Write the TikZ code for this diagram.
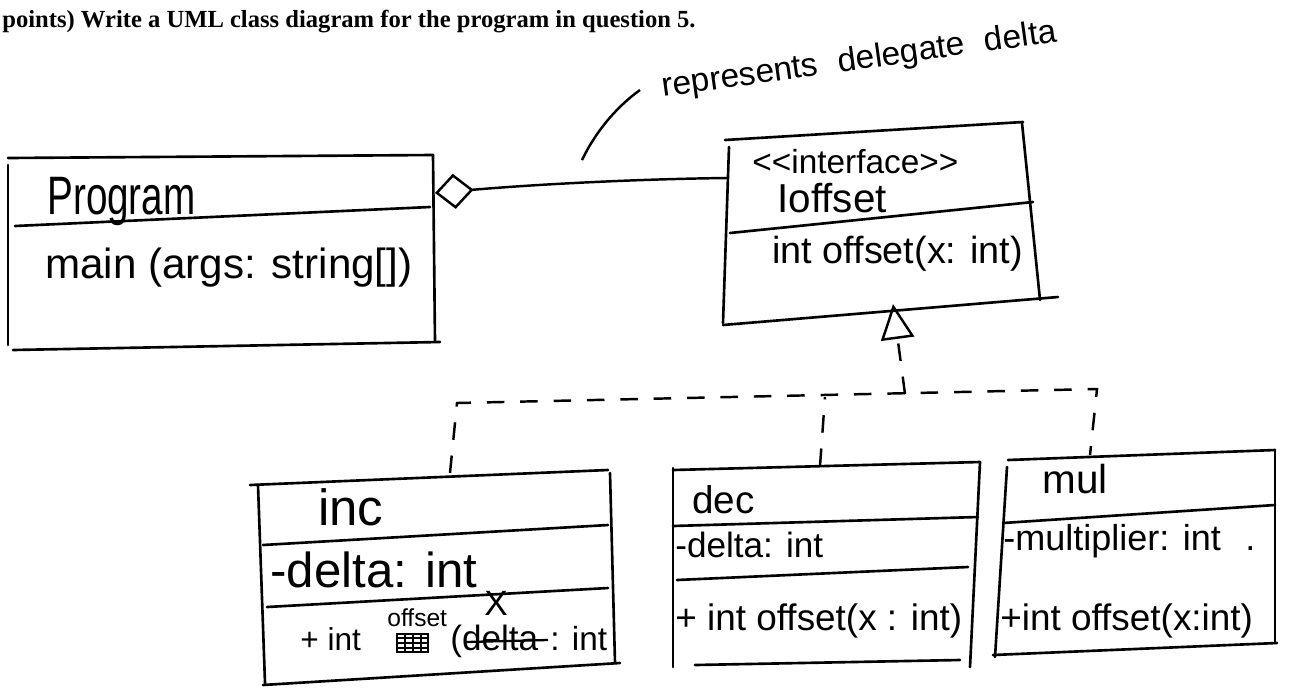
\documentclass[tikz,border=0pt]{standalone}
\usepackage{fontspec}
\setmainfont{Liberation Serif}
\newfontfamily\handfont{Liberation Sans}
\usetikzlibrary{arrows.meta}
\newcommand{\handsize}[1]{\fontsize{#1}{#1}\selectfont}

\begin{document}
\begin{tikzpicture}[
    x=0.02cm, y=-0.02cm,
    boxline/.style={line width=1.5pt, line cap=round, line join=round},
    realize/.style={line width=1.4pt, dash pattern=on 10pt off 9pt},
    aggr/.style={line width=1.4pt},
    hand/.style={font=\handfont, anchor=base west, inner sep=0pt},
    title/.style={font=\bfseries\fontsize{14pt}{16pt}\selectfont, anchor=base west, inner sep=0pt}
]
\useasboundingbox (0,0) rectangle (1290,687);

% ============================
% QUESTION LINE
% ============================
\node[title] (question) at (2,27) {points) Write a UML class diagram for the program in question 5.};

% ============================
% Program class (left)
% ============================
\draw[boxline] (8,158) -- (433,155);
\draw[boxline] (8,165) -- (8,345);
\draw[boxline] (433,155) -- (435,342);
\draw[boxline] (15,226) -- (430,207);
\draw[boxline] (13,350) -- (440,342);
\node[hand, font=\handfont\handsize{22pt}] (progName) at (47,214) {\scalebox{1}[1.4]{Program}};
\node[hand, font=\handfont\handsize{24pt}] (progMain) at (45,278) {main (args: string[])};
\coordinate (prog-e) at (435,193);

% ============================
% IOffset interface (top right)
% ============================
\draw[boxline] (725,140) -- (1023,122);
\draw[boxline] (729,147) -- (723,323);
\draw[boxline] (1022,123) -- (1040,300);
\draw[boxline] (730,233) -- (1033,202);
\draw[boxline] (723,325) -- (1058,297);
\node[hand, font=\handfont\handsize{19pt}] (ifStereo) at (752,173) {<<interface>>};
\node[hand, font=\handfont\handsize{23pt}] (ifName) at (777,212) {Ioffset};
\node[hand, font=\handfont\handsize{21.5pt}] (ifOp) at (772,263) {int offset(x: int)};
\coordinate (iface-w) at (727,178);
\coordinate (iface-s) at (893,304);

% ============================
% Aggregation + note
% ============================
\draw[aggr, -{Diamond[open, length=22pt, width=20pt, line width=1.4pt]}]
    (iface-w) .. controls (640,179) and (540,184) .. (prog-e);

\node[hand, font=\handfont\handsize{19pt}, rotate=8] (note) at (663,97)
    {represents\hspace{0.6em}delegate\hspace{0.6em}delta};
\coordinate (note-tip) at (582,160);
\draw[aggr] (640,90) .. controls (615,108) and (595,133) .. (note-tip);

% ============================
% inc class
% ============================
\draw[boxline] (250,485) -- (608,470);
\draw[boxline] (258,485) -- (265,683);
\draw[boxline] (610,473) -- (615,663);
\draw[boxline] (263,545) -- (608,525);
\draw[boxline] (267,607) -- (608,588);
\draw[boxline] (263,685) -- (620,663);
\node[hand, font=\handfont\handsize{29pt}] (incName) at (318,525) {inc};
\node[hand, font=\handfont\handsize{28pt}] (incAttr) at (270,587) {-delta: int};
\node[hand, font=\handfont\handsize{18pt}] (incOpA) at (300,650) {+ int};
% scribbled-out word
\draw[line width=1pt] (397,634) rectangle (428,652);
\foreach \yy in {638,643,648} \draw[line width=1pt] (397,\yy) -- (428,\yy);
\foreach \xx in {405,413,421} \draw[line width=1pt] (\xx,634) -- (\xx,652);
\node[hand, font=\handfont\handsize{14pt}] (incFix) at (387,626) {offset};
\node[hand, font=\handfont\handsize{20pt}] (incOpB) at (450,650) {(delta};
\draw[line width=1.3pt] (466,642) -- (548,640);
\node[hand, font=\handfont\handsize{20pt}] (incX) at (484,615) {X};
\node[hand, font=\handfont\handsize{19pt}] (incOpC) at (550,650) {: int};
\coordinate (inc-n) at (450,473);

% ============================
% dec class
% ============================
\draw[boxline] (673,470) -- (980,462);
\draw[boxline] (673,468) -- (673,667);
\draw[boxline] (980,462) -- (970,667);
\draw[boxline] (673,526) -- (978,517);
\draw[boxline] (677,580) -- (968,567);
\draw[boxline] (695,665) -- (960,660);
\node[hand, font=\handfont\handsize{22pt}] (decName) at (692,513) {dec};
\node[hand, font=\handfont\handsize{20pt}] (decAttr) at (675,557) {-delta: int};
\node[hand, font=\handfont\handsize{21pt}] (decOp) at (675,630) {+ int offset(x : int)};
\coordinate (dec-n) at (820,466);

% ============================
% mul class
% ============================
\draw[boxline] (1008,460) -- (1275,450);
\draw[boxline] (1007,467) -- (995,657);
\draw[boxline] (1275,450) -- (1275,643);
\draw[boxline] (1003,523) -- (1275,505);
\draw[boxline] (993,655) -- (1277,643);
\node[hand, font=\handfont\handsize{23pt}] (mulName) at (1042,493) {mul};
\node[hand, font=\handfont\handsize{20.5pt}] (mulAttr) at (1003,550) {-multiplier: int\hspace{14pt}.};
\node[hand, font=\handfont\handsize{21pt}] (mulOp) at (1000,630) {+int offset(x:int)};
\coordinate (mul-n) at (1090,455);

% ============================
% Realization (dashed bus)
% ============================
\coordinate (bus-w) at (457,403);
\coordinate (bus-c) at (905,394);
\coordinate (bus-d) at (825,397);
\coordinate (bus-e) at (1097,389);
\draw[realize, -{Triangle[open, length=20pt, width=19pt, line width=1.4pt]}] (bus-c) -- (iface-s);
\draw[realize] (inc-n) -- (bus-w) -- (bus-e) -- (mul-n);
\draw[realize] (dec-n) -- (bus-d);

\end{tikzpicture}
\end{document}
